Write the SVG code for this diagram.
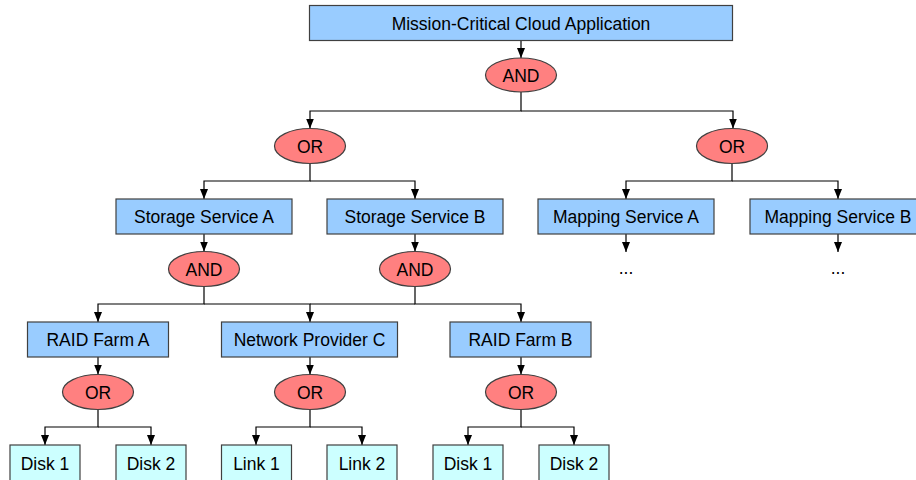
<svg xmlns="http://www.w3.org/2000/svg" width="916" height="480" viewBox="0 0 916 480">
<defs>
<marker id="arr" markerUnits="userSpaceOnUse" markerWidth="10" markerHeight="9" refX="10" refY="4.5" orient="auto">
<path d="M0,0.5 L10,4.5 L0,8.5 z" fill="#000"/>
</marker>
<style>
.box{fill:#99ccff;stroke:#404040;stroke-width:1.2}
.leaf{fill:#ccffff;stroke:#404040;stroke-width:1.2}
.gate{fill:#ff8080;stroke:#404040;stroke-width:1.2}
text{font-family:"Liberation Sans",Arial,sans-serif;font-size:17.5px;fill:#000;text-anchor:middle}
.c path{fill:none;stroke:#000;stroke-width:1.2;marker-end:url(#arr)}
.c path.n{marker-end:none}
</style>
</defs>
<rect width="916" height="480" fill="#fff"/>
<g class="c" id="connectors">
<path d="M521,40.5 V58"/>
<path d="M521,92 V111 H310 V128.5"/>
<path d="M521,111 H733 V128.5"/>
<path d="M310,163.5 V181 H204 V199"/>
<path d="M310,181 H415 V199"/>
<path d="M732,163.5 V181 H626 V199"/>
<path d="M732,181 H838 V199"/>
<path d="M204,234 V251.5"/>
<path d="M415,234 V251.5"/>
<path d="M626,234 V252"/>
<path d="M838,234 V252"/>
<path d="M204,286.5 V304 H98 V322"/>
<path d="M204,304 H310 V322"/>
<path d="M415,286.5 V304 H521 V322"/>
<path class="n" d="M415,304 H310"/>
<path d="M98,357 V374.5"/>
<path d="M310,357 V374.5"/>
<path d="M521,357 V374.5"/>
<path d="M98,409.5 V427 H45 V445"/>
<path d="M98,427 H151 V445"/>
<path d="M310,409.5 V427 H256 V445"/>
<path d="M310,427 H362 V445"/>
<path d="M521,409.5 V427 H468 V445"/>
<path d="M521,427 H574 V445"/>
</g>
<g id="root"><rect class="box" x="309.5" y="5.5" width="423" height="35"/><text x="521" y="29.5">Mission-Critical Cloud Application</text></g>
<g id="and-root"><ellipse class="gate" cx="521" cy="75" rx="35.5" ry="17"/><text x="521" y="81.5">AND</text></g>
<g id="or-storage"><ellipse class="gate" cx="310" cy="146" rx="35.5" ry="17.5"/><text x="310" y="152.5">OR</text></g>
<g id="or-mapping"><ellipse class="gate" cx="732" cy="146" rx="35.5" ry="17.5"/><text x="732" y="152.5">OR</text></g>
<g id="storage-a"><rect class="box" x="116" y="199" width="176" height="35"/><text x="204" y="223">Storage Service A</text></g>
<g id="storage-b"><rect class="box" x="327" y="199" width="176" height="35"/><text x="415" y="223">Storage Service B</text></g>
<g id="mapping-a"><rect class="box" x="538" y="199" width="176" height="35"/><text x="626" y="223">Mapping Service A</text></g>
<g id="mapping-b"><rect class="box" x="750" y="199" width="176" height="35"/><text x="838" y="223">Mapping Service B</text></g>
<g id="dots-a"><text x="626" y="274">...</text></g>
<g id="dots-b"><text x="838" y="274">...</text></g>
<g id="and-a"><ellipse class="gate" cx="204" cy="269" rx="35.5" ry="17.5"/><text x="204" y="275.5">AND</text></g>
<g id="and-b"><ellipse class="gate" cx="415" cy="269" rx="35.5" ry="17.5"/><text x="415" y="275.5">AND</text></g>
<g id="raid-a"><rect class="box" x="27.5" y="322" width="141" height="35"/><text x="98" y="346">RAID Farm A</text></g>
<g id="network-c"><rect class="box" x="221.5" y="322" width="176" height="35"/><text x="309.5" y="346">Network Provider C</text></g>
<g id="raid-b"><rect class="box" x="450" y="322" width="141" height="35"/><text x="520.5" y="346">RAID Farm B</text></g>
<g id="or-raid-a"><ellipse class="gate" cx="98" cy="392" rx="35.5" ry="17.5"/><text x="98" y="398.5">OR</text></g>
<g id="or-network"><ellipse class="gate" cx="310" cy="392" rx="35.5" ry="17.5"/><text x="310" y="398.5">OR</text></g>
<g id="or-raid-b"><ellipse class="gate" cx="521" cy="392" rx="35.5" ry="17.5"/><text x="521" y="398.5">OR</text></g>
<g id="disk-a1"><rect class="leaf" x="10" y="445" width="70" height="37"/><text x="45" y="469.5">Disk 1</text></g>
<g id="disk-a2"><rect class="leaf" x="116" y="445" width="70" height="37"/><text x="151" y="469.5">Disk 2</text></g>
<g id="link-1"><rect class="leaf" x="221.5" y="445" width="70" height="37"/><text x="256.5" y="469.5">Link 1</text></g>
<g id="link-2"><rect class="leaf" x="327" y="445" width="70" height="37"/><text x="362" y="469.5">Link 2</text></g>
<g id="disk-b1"><rect class="leaf" x="433" y="445" width="70" height="37"/><text x="468" y="469.5">Disk 1</text></g>
<g id="disk-b2"><rect class="leaf" x="539" y="445" width="70" height="37"/><text x="574" y="469.5">Disk 2</text></g>
</svg>
